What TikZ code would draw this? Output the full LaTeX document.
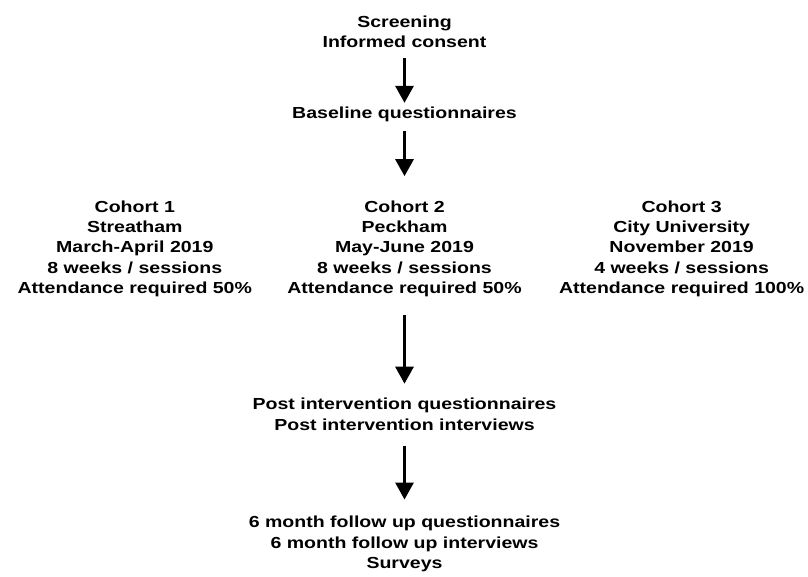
\documentclass[tikz,border=0pt]{standalone}
\usepackage{fontspec}
\setmainfont{Liberation Sans}[FakeStretch=1.22]
\usepackage{tikz}
\usetikzlibrary{arrows.meta,positioning}
\tikzstyle{stage}=[align=center, inner sep=0pt, font=\bfseries\fontsize{16}{20.3}\selectfont]
\tikzstyle{flow}=[line width=3pt]
\begin{document}
\begin{tikzpicture}[x=1pt,y=1pt,>={Triangle[width=18pt,length=17pt]}]
    \useasboundingbox (0,0) rectangle (808,-576);
    \node [stage, anchor=north] (screen) at (404.5,-15.4) {Screening\\Informed consent};
    \node [stage] (base) [below=58.4pt of screen] {Baseline questionnaires};
    \node [stage] (c2) [below=79pt of base] {Cohort 2\\Peckham\\May-June 2019\\8 weeks / sessions\\Attendance required 50\%};
    \node [stage] (c1) [left=35pt of c2] {Cohort 1\\Streatham\\March-April 2019\\8 weeks / sessions\\Attendance required 50\%};
    \node [stage] (c3) [right=37pt of c2] {Cohort 3\\City University\\November 2019\\4 weeks / sessions\\Attendance required 100\%};
    \node [stage] (post) [below=101pt of c2] {Post intervention questionnaires\\Post intervention interviews};
    \node [stage] (follow) [below=85.4pt of post] {6 month follow up questionnaires\\6 month follow up interviews\\Surveys};
    \path[->, flow]
    (screen) edge[shorten <=10pt, shorten >=3.4pt] (base)
    (base) edge[shorten <=9.6pt, shorten >=24.4pt] (c2)
    (c2) edge[shorten <=17.6pt, shorten >=14.4pt] (post)
    (post) edge[shorten <=15pt, shorten >=16.4pt] (follow);
\end{tikzpicture}
\end{document}
